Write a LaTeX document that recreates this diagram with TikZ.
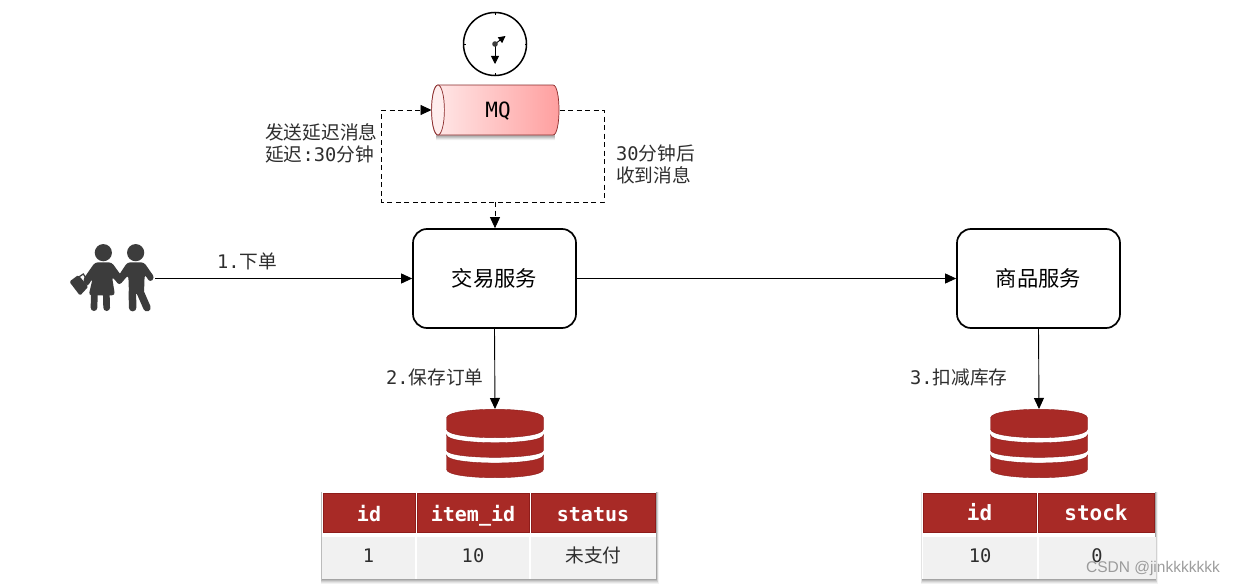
\documentclass[tikz,border=0pt]{standalone}
\usepackage{fontspec}
\setmainfont{DejaVu Sans Mono}
\newfontfamily\cjk{Noto Sans CJK SC}
\newfontfamily\wmfont{Liberation Sans}
\usetikzlibrary{arrows.meta,shadings}
\newcommand\zh[1]{{\cjk #1}}
\newcommand\fs[1]{\fontsize{#1}{#1}\selectfont}
\definecolor{brick}{HTML}{A82A26}
\definecolor{brickdark}{HTML}{8E1C1A}
\definecolor{cellgray}{HTML}{F1F1F1}
\definecolor{figure}{HTML}{3C3C3C}
\definecolor{labelgray}{HTML}{2E2E2E}
\definecolor{mqline}{HTML}{8A2B2B}
\tikzset{
  line/.style={draw=black,line width=.9pt,-{Triangle[length=11pt,width=10pt]}},
  svc/.style={draw=black,line width=1.7pt,rounded corners=14pt,minimum width=163pt,minimum height=99pt,inner sep=0pt,font=\fs{21.3}\cjk},
  lbl/.style={inner sep=0pt,text=labelgray,font=\fs{18.7},align=left},
  hdr/.style={fill=brick,draw=brickdark,line width=.5pt,text=white,inner sep=0pt,minimum height=39pt,text height=22pt,text depth=3.6pt,font=\fs{20}\bfseries},
  hdrb/.style={fill=brick,draw=brickdark,line width=.5pt,text=white,inner sep=0pt,minimum height=39pt,text height=20pt,text depth=5pt,font=\fs{21}\bfseries},
  cell/.style={fill=cellgray,inner sep=0pt,minimum height=42pt,text height=14pt,text depth=5pt,text=labelgray,font=\fs{18.7}},
  dbsec/.style={fill=brick,draw=brickdark,line width=.4pt},
  dbpic/.pic={
    \path[dbsec] (-48.5,9) .. controls (-48.5,-2.6) and (48.5,-2.6) .. (48.5,9) -- (48.5,20) .. controls (48.5,31.6) and (-48.5,31.6) .. (-48.5,20) -- cycle;
    \path[dbsec] (-48.5,25.7) .. controls (-48.5,36.4) and (48.5,36.4) .. (48.5,25.7) -- (48.5,41) .. controls (48.5,50.8) and (-48.5,50.8) .. (-48.5,41) -- cycle;
    \path[dbsec] (-48.5,46) .. controls (-48.5,56.7) and (48.5,56.7) .. (48.5,46) -- (48.5,60.3) .. controls (48.5,71.5) and (-48.5,71.5) .. (-48.5,60.3) -- cycle;
  },
}
\begin{document}
\begin{tikzpicture}[x=1pt,y=-1pt]
\useasboundingbox (0,0) rectangle (1234,586);
\fill[white] (0,0) rectangle (1234,586);

% clock
\node[circle,draw=black,line width=1.5pt,minimum size=63pt,inner sep=0pt] (clock) at (495,44) {};
\draw[line width=.8pt] (495,13) -- (495,15);
\draw[line width=.8pt] (495,75) -- (495,73);
\draw[line width=.8pt] (463.5,44) -- (465.5,44);
\draw[line width=.8pt] (526.5,44) -- (524.5,44);
\coordinate (handA) at (495,64);
\coordinate (handB) at (505.5,36);
\draw[line width=.9pt,-{Triangle[length=8pt,width=8pt]}] (clock.center) -- (handA);
\draw[line width=.9pt,-{Triangle[length=7pt,width=7pt]}] (clock.center) -- (handB);
\fill[figure] (clock.center) circle[radius=2.8pt];

% MQ
\foreach \o/\g in {5/.06,4/.07,3/.09,2/.1}{
  \fill[black,opacity=\g] (438,{85+\o}) -- (553,{85+\o}) -- (555,{135+\o}) -- (436,{135+\o}) -- cycle;
}
\path[left color=red!8,right color=red!38!white,draw=mqline,line width=.7pt]
  (438,85) -- (553,85) .. controls (561,85) and (561,135) .. (553,135) -- (438,135)
  .. controls (429.5,135) and (429.5,85) .. (438,85) -- cycle;
\fill[red!7!white,draw=mqline,line width=.7pt] (438,110) ellipse[x radius=6.4pt,y radius=25pt];
\node[inner sep=0pt,font=\fs{21}] (mq) at (498,111.5) {MQ};
\coordinate (mqL) at (431.5,110);
\coordinate (mqR) at (559.5,110);

% services
\node[svc] (trade) at (494.5,278.5) {交易服务};
\node[svc] (goods) at (1038.5,278.5) {商品服务};

% dashed loop
\coordinate (loopBL) at (381.5,202);
\coordinate (loopTL) at (381.5,110);
\coordinate (loopBR) at (604,202);
\coordinate (loopTR) at (604,110);
\coordinate (loopB) at (495,202);
\draw[line width=.9pt,dash pattern=on 5pt off 3.5pt] (mqR) -- (loopTR) -- (loopBR) -- (loopBL) -- (loopTL) -- (mqL);
\draw[line width=.9pt,-{Triangle[length=11pt,width=10pt]}] (421,110) -- (mqL);
\draw[line width=.9pt,dash pattern=on 5pt off 3.5pt,-{Triangle[length=11pt,width=10pt]}] (loopB) -- (trade.north -| loopB);

% person
\begin{scope}[shift={(50,230)},x=0.3333pt,y=-0.3333pt]
  \fill[figure] (160,68) circle[radius=8.6pt];
  \fill[figure] (257,68) circle[radius=8.6pt];
  % woman
  \fill[figure,rounded corners=3pt] (135,97) -- (185,97) -- (222,148) -- (208,165) -- (186,140) -- (195,196) -- (116,196) -- (128,145) -- (112,170) -- (98,150) -- cycle;
  \draw[figure,line width=6.7pt,line cap=round] (133,195) -- (132,233);
  \draw[figure,line width=6.7pt,line cap=round] (169,195) -- (170,233);
  % bag
  \fill[figure,rounded corners=1.5pt] (58,155) -- (85,135) -- (115,170) -- (90,197) -- cycle;
  \draw[figure,line width=1.2pt] (88,140) -- (100,132) -- (110,148);
  % man
  \fill[figure,rounded corners=3pt] (232,97) -- (282,97) -- (314,143) -- (300,157) -- (284,133) -- (282,192) -- (237,192) -- (235,135) -- (208,166) -- (196,152) -- cycle;
  \draw[figure,line width=7.5pt,line cap=round] (247,185) -- (248,233);
  \draw[figure,line width=7.5pt,line cap=round] (270,185) -- (291,233);
\end{scope}
\coordinate (person) at (155,278.5);

% solid connectors
\draw[line] (person) -- (trade.west);
\draw[line] (trade.east) -- (goods.west);

% databases
\coordinate (db1) at (495,409);
\coordinate (db2) at (1039,409);
\coordinate (gb) at (1038,328);
\pic at (db1) {dbpic};
\pic at (db2) {dbpic};
\draw[line] (trade.south) -- (db1);
\draw[line] (goods.south) -- (db2);

% table shadows
\foreach \o/\g in {5/.05,4/.06,3/.08,2/.1,1/.12}{
  \fill[black,opacity=\g] ({322-\o*.3},{492}) rectangle ({656+\o*.6},{579+\o});
  \fill[black,opacity=\g] ({922.5-\o*.3},{492}) rectangle ({1155+\o*.6},{579+\o});
}
\fill[white] (322,492) rectangle (656,579);
\fill[white] (922,492) rectangle (1155,579);

% table 1
\node[hdr,minimum width=92pt] (a1) at (369,512.5) {id};
\node[hdr,minimum width=112pt] (a2) at (473,512.5) {item\_id};
\node[hdr,minimum width=124pt] (a3) at (593,512.5) {status};
\node[cell,minimum width=93pt] (a4) at (368.5,558) {1};
\node[cell,minimum width=112pt] (a5) at (473,558) {10};
\node[cell,minimum width=125pt] (a6) at (593.5,558) {\zh{未支付}};

% table 2
\node[hdrb,minimum width=113pt] (b1) at (979.5,512.5) {id};
\node[hdrb,minimum width=116pt] (b2) at (1096,512.5) {stock};
\node[cell,minimum width=114pt] (b3) at (980,558) {10};
\node[cell,minimum width=117pt] (b4) at (1097,558) {0};

% labels
\node[lbl,anchor=west] (l1) at (217,261.5) {1.\zh{下单}};
\node[lbl,anchor=west] (l2) at (386,377.5) {2.\zh{保存订单}};
\node[lbl,anchor=west] (l3) at (910,377.5) {3.\zh{扣减库存}};
\node[lbl,anchor=west] (l4) at (265,132.5) {\zh{发送延迟消息}};
\node[lbl,anchor=west] (l5) at (265,154.5) {\zh{延迟}:30\zh{分钟}};
\node[lbl,anchor=west] (l6) at (616,153.5) {30\zh{分钟后}};
\node[lbl,anchor=west] (l7) at (616,175.5) {\zh{收到消息}};

% watermark
\node[inner sep=0pt,anchor=east,text=black!45,opacity=.85,font=\fs{15.5}\wmfont] (wm) at (1220,568.5) {CSDN @jinkkkkkkk};
\end{tikzpicture}
\end{document}
